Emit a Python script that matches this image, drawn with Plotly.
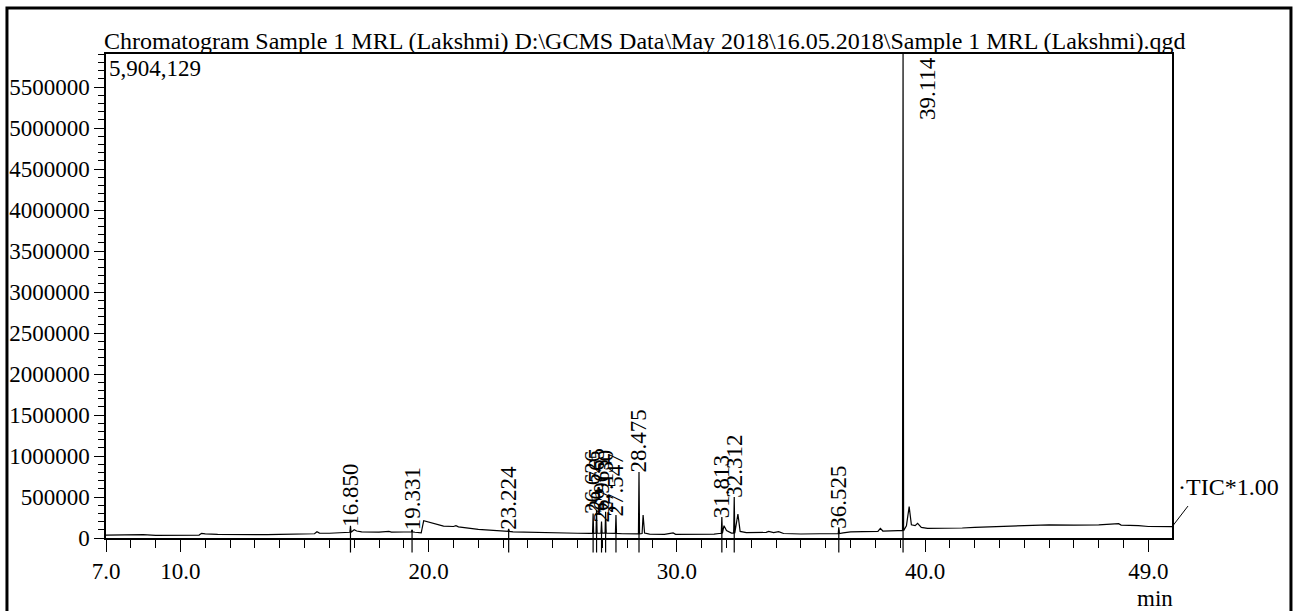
import plotly.graph_objects as go

# ---------------- data ----------------
trace_time = [7.0, 7.5, 8.0, 8.5, 9.0, 9.5, 10.0, 10.5, 10.75, 10.85, 11.0, 11.5, 12.0, 13.0,
              13.5, 14.0, 14.5, 15.0, 15.4, 15.5, 15.6, 16.0, 16.5, 16.75,
              17.0, 17.1, 17.3, 18.0, 18.4, 18.5, 19.0, 19.25,
              19.45, 19.7, 19.8, 20.0, 20.2, 20.6, 21.0, 21.1, 21.2, 21.6, 22.0, 22.3, 22.6, 22.9, 23.1,
              23.4, 24.0, 24.5, 25.0, 25.6, 26.0, 26.5,
              27.0, 27.3, 27.8, 28.3,
              28.6, 28.64, 28.7, 28.9, 29.5, 29.85, 29.95, 30.5, 31.0, 31.5, 31.7,
              31.9, 32.0, 32.2,
              32.46, 32.55, 32.8, 33.6, 33.7, 33.9, 34.1, 34.3, 35.0, 36.0, 36.4,
              36.7, 37.0, 37.5, 38.1, 38.2, 38.3, 38.9, 39.05,
              39.25, 39.36, 39.45, 39.6, 39.7, 39.85, 40.1, 41.0, 41.5, 42.0, 43.0, 43.2,
              44.0, 45.0, 46.0, 47.0, 47.8, 47.9, 48.6, 49.0, 49.95]
trace_tic = [35000, 38000, 33000, 40000, 32000, 34000, 33000, 35000, 36000, 57000, 50000, 45000, 43000, 42000,
             40000, 44000, 45000, 47000, 52000, 77000, 60000, 58000, 62000, 70000,
             100000, 85000, 75000, 72000, 80000, 72000, 73000, 75000,
             70000, 62000, 211000, 195000, 179000, 146000, 140000, 150000, 136000, 118000, 105000, 98000, 92000, 85000, 82000,
             75000, 69000, 70000, 66000, 60000, 58000, 57000,
             60000, 58000, 52000, 50000,
             55000, 280000, 60000, 48000, 45000, 62000, 45000, 44000, 46000, 48000, 55000,
             150000, 90000, 60000,
             293000, 80000, 65000, 68000, 80000, 66000, 78000, 55000, 49000, 50000, 52000,
             62000, 75000, 77000, 80000, 118000, 85000, 89000, 90000,
             150000, 382000, 160000, 150000, 179000, 130000, 118000, 116000, 122000, 130000, 140000, 150000,
             155000, 160000, 158000, 160000, 175000, 158000, 150000, 140000, 138000]

peak_rt = [16.850, 19.331, 23.224, 26.626, 26.765, 26.965, 27.130, 27.547, 28.475,
           31.813, 32.312, 36.525, 39.114]
peak_height = [150000, 100000, 110000, 300000, 340000, 200000, 320000, 280000, 805000,
               256000, 500000, 130000, 5904129]
peak_base = [70000, 74000, 80000, 57000, 58000, 59000, 60000, 56000, 50000,
             55000, 60000, 55000, 90000]
peak_labels = ["16.850", "19.331", "23.224", "26.626", "26.765", "26.965", "27.130", "27.547",
               "28.475", "31.813", "32.312", "36.525", "39.114"]

x_tickvals = [7, 10, 20, 30, 40, 49]
x_ticktext = ["7.0", "10.0", "20.0", "30.0", "40.0", "49.0"]
y_tickvals = [0, 500000, 1000000, 1500000, 2000000, 2500000, 3000000, 3500000,
              4000000, 4500000, 5000000, 5500000]
y_ticktext = [str(v) for v in y_tickvals]
y_max = 5904129
x_range = [7.0, 49.95]

title_text = ("Chromatogram Sample 1 MRL (Lakshmi) D:\\GCMS Data\\May 2018\\16.05.2018"
              "\\Sample 1 MRL (Lakshmi).qgd")

# ---------------- build the line ----------------
HW = 0.022  # peak half width (drawing style)
pts = list(zip(trace_time, trace_tic))
for rt, h, b in zip(peak_rt, peak_height, peak_base):
    pts += [(rt - HW, b), (rt, h), (rt + HW, b)]
pts.sort(key=lambda p: p[0])
xs = [p[0] for p in pts]
ys = [p[1] for p in pts]

FONT = "Liberation Serif"
fig = go.Figure()
fig.add_trace(go.Scatter(x=xs, y=ys, mode="lines",
                         line=dict(color="black", width=1.2), hoverinfo="skip",
                         showlegend=False))

annotations = []
for rt, h, lab in zip(peak_rt, peak_height, peak_labels):
    if h >= y_max:
        annotations.append(dict(x=rt, y=y_max, xref="x", yref="y", text=lab,
                                textangle=-90, showarrow=False, xanchor="left",
                                yanchor="top", xshift=10, yshift=-1,
                                font=dict(family=FONT, size=23, color="black")))
    else:
        annotations.append(dict(x=rt, y=h, xref="x", yref="y", text=lab,
                                textangle=-90, showarrow=False, xanchor="center",
                                yanchor="bottom", yshift=-3,
                                font=dict(family=FONT, size=23, color="black")))

annotations += [
    dict(x=0.5056, y=1.0, xref="paper", yref="paper", text=title_text, showarrow=False,
         xanchor="center", yanchor="bottom", yshift=-2,
         font=dict(family=FONT, size=24, color="black")),
    dict(x=0.0, y=1.0, xref="paper", yref="paper", text="5,904,129", showarrow=False,
         xanchor="left", yanchor="top", xshift=1,
         font=dict(family=FONT, size=23, color="black")),
    dict(x=1.004, y=0.105, xref="paper", yref="paper", text="·TIC*1.00", showarrow=False,
         xanchor="left", yanchor="middle",
         font=dict(family=FONT, size=24, color="black")),
    dict(x=0.984, y=-0.124, xref="paper", yref="paper", text="min", showarrow=False,
         xanchor="center", yanchor="middle",
         font=dict(family=FONT, size=23, color="black")),
]

shapes = []
for rt in peak_rt:
    shapes.append(dict(type="line", xref="x", yref="paper", x0=rt, x1=rt, y0=-0.03, y1=0.017,
                       line=dict(color="black", width=1.2)))
shapes.append(dict(type="line", xref="paper", yref="paper", x0=1.0, x1=1.015,
                   y0=0.023, y1=0.066, line=dict(color="black", width=1)))
shapes.append(dict(type="rect", xref="paper", yref="paper", x0=-0.0929, x1=1.1116,
                   y0=-0.2, y1=1.095, line=dict(color="black", width=3)))

fig.update_layout(
    width=1301, height=611, autosize=False,
    margin=dict(l=106, r=129, t=54, b=73, pad=0, autoexpand=False),
    paper_bgcolor="white", plot_bgcolor="white",
    annotations=annotations, shapes=shapes,
    font=dict(family=FONT, color="black"),
)
fig.update_xaxes(range=x_range, tickvals=x_tickvals, ticktext=x_ticktext,
                 ticks="outside", ticklen=12, tickwidth=1.2, tickcolor="black",
                 showline=True, linecolor="black", linewidth=1.5, mirror=True,
                 showgrid=False, zeroline=False, automargin=False,
                 minor=dict(tick0=7, dtick=1, ticks="outside", ticklen=8, tickwidth=1.2,
                            tickcolor="black", showgrid=False),
                 tickfont=dict(family=FONT, size=23, color="black"))
fig.update_yaxes(range=[0, y_max], tickvals=y_tickvals, ticktext=y_ticktext,
                 ticks="outside", ticklen=10, tickwidth=1.2, tickcolor="black",
                 showline=True, linecolor="black", linewidth=1.5, mirror=True,
                 showgrid=False, zeroline=False, automargin=False,
                 minor=dict(tick0=0, dtick=100000, ticks="outside", ticklen=6, tickwidth=1.2,
                            tickcolor="black", showgrid=False),
                 tickfont=dict(family=FONT, size=23, color="black"))

fig.write_html("out.html", config={"displayModeBar": False},
               post_script="document.body.style.margin='0px';document.body.style.overflow='hidden';")
